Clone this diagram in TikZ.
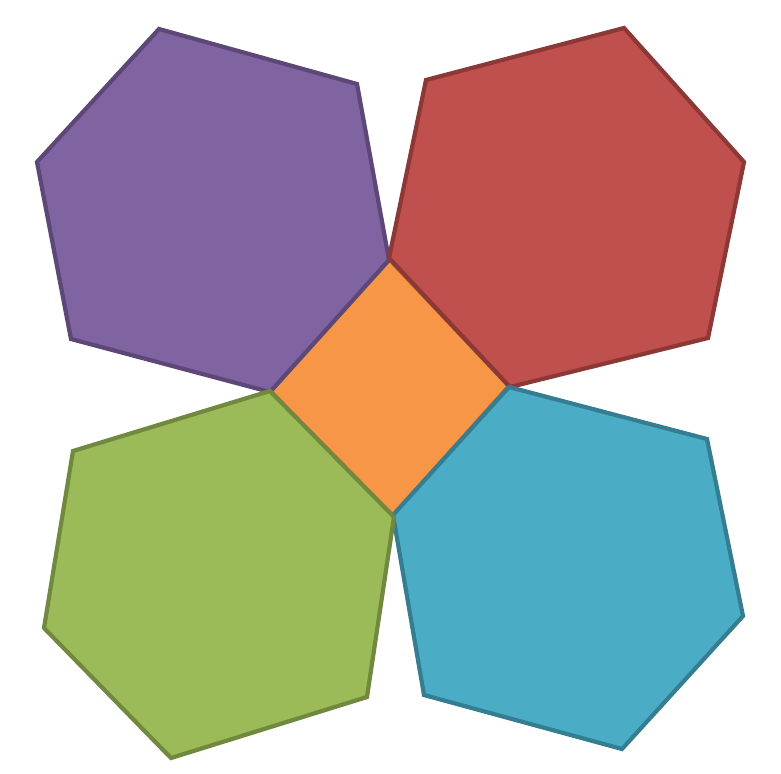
\documentclass[tikz,border=0pt]{standalone}
\begin{document}
\begin{tikzpicture}[x=1pt,y=-1pt,
  shp/.style={line width=4.2pt,line join=miter}]
\definecolor{pfill}{HTML}{8064A2}\definecolor{pline}{HTML}{5C4776}
\definecolor{rfill}{HTML}{C0504D}\definecolor{rline}{HTML}{8C3836}
\definecolor{gfill}{HTML}{9BBB59}\definecolor{gline}{HTML}{71893F}
\definecolor{bfill}{HTML}{4BACC6}\definecolor{bline}{HTML}{357D91}
\definecolor{ofill}{HTML}{F79646}\definecolor{oline}{HTML}{B66D31}
\useasboundingbox (0,0) rectangle (781,773);
% central square
\filldraw[shp,fill=ofill,draw=oline] (389,259) -- (509,386) -- (393,516) -- (270,391) -- cycle;
% purple
\filldraw[shp,fill=pfill,draw=pline] (159,29) -- (357,84) -- (389,260) -- (270,392) -- (71,339) -- (37,162) -- cycle;
% red
\filldraw[shp,fill=rfill,draw=rline] (624,28) -- (744,162) -- (708,338) -- (510,387) -- (389,258) -- (426,80) -- cycle;
% blue
\filldraw[shp,fill=bfill,draw=bline] (509,387) -- (707,439) -- (743,616) -- (622,749) -- (424,695) -- (393,515) -- cycle;
% green
\filldraw[shp,fill=gfill,draw=gline] (270,391) -- (394,517) -- (367,697) -- (171,758) -- (44,628) -- (73,451) -- cycle;
\end{tikzpicture}
\end{document}
